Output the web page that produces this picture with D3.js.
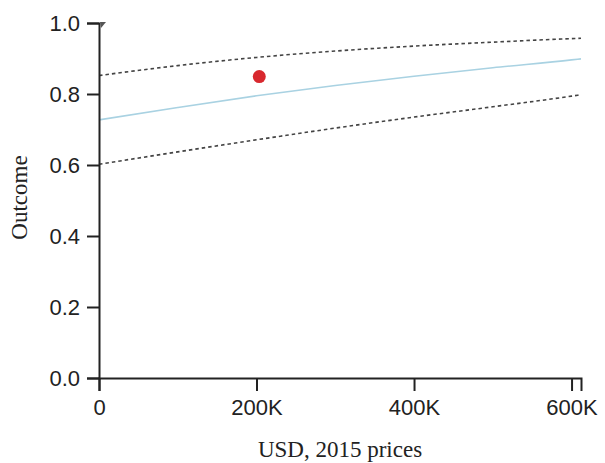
<!DOCTYPE html>
<html>
<head>
<meta charset="utf-8">
<script src="https://cdn.jsdelivr.net/npm/d3@7"></script>
<style>
  html, body { margin: 0; padding: 0; background: #fff; }
  svg { display: block; }
</style>
</head>
<body>
<svg id="chart" width="605" height="463"></svg>
<script>
// ---- data ----
const xPoints   = [0, 100000, 200000, 300000, 400000, 500000, 600000, 612000];
const meanLine  = [0.727, 0.762, 0.795, 0.824, 0.850, 0.874, 0.896, 0.899];
const upperLine = [0.852, 0.880, 0.903, 0.921, 0.935, 0.946, 0.956, 0.957];
const lowerLine = [0.602, 0.637, 0.671, 0.704, 0.735, 0.764, 0.794, 0.798];
const observed  = [{x: 203500, y: 0.849}];
const xTicks = [0, 200000, 400000, 600000];
const xTickLabels = ["0", "200K", "400K", "600K"];
const yTicks = [0, 0.2, 0.4, 0.6, 0.8, 1.0];
const xTitle = "USD, 2015 prices";
const yTitle = "Outcome";

const svg = d3.select("#chart");
const x = d3.scaleLinear().domain([0, 612000]).range([99, 581]);
const y = d3.scaleLinear().domain([0, 1]).range([378, 23]);

const sans = "'Liberation Sans', Arial, Helvetica, sans-serif";
const serif = "'Liberation Serif', 'Times New Roman', serif";

const line = d3.line().x((d, i) => x(xPoints[i])).y(d => y(d)).curve(d3.curveMonotoneX);

svg.append("path").datum(upperLine).attr("d", line)
  .attr("fill", "none").attr("stroke", "#444").attr("stroke-width", 1.6)
  .attr("stroke-dasharray", "3.5,3");
svg.append("path").datum(lowerLine).attr("d", line)
  .attr("fill", "none").attr("stroke", "#444").attr("stroke-width", 1.6)
  .attr("stroke-dasharray", "3.5,3");
svg.append("path").datum(meanLine).attr("d", line)
  .attr("fill", "none").attr("stroke", "#a9d2e2").attr("stroke-width", 1.6);

svg.selectAll("circle.obs").data(observed).join("circle")
  .attr("class", "obs")
  .attr("cx", d => x(d.x)).attr("cy", d => y(d.y)).attr("r", 6.5)
  .attr("fill", "#d8282e");

// axes
const xAxis = d3.axisBottom(x).tickValues(xTicks)
  .tickFormat((d, i) => xTickLabels[i]).tickSize(13).tickPadding(8);
const yAxis = d3.axisLeft(y).tickValues(yTicks)
  .tickFormat(d3.format(".1f")).tickSize(12).tickPadding(7);

const gx = svg.append("g").attr("transform", "translate(0,378)").call(xAxis);
const gy = svg.append("g").attr("transform", "translate(99,0)").call(yAxis);

[gx, gy].forEach(g => {
  g.select(".domain").attr("stroke", "#222").attr("stroke-width", 2);
  g.selectAll(".tick line").attr("stroke", "#222").attr("stroke-width", 2);
  g.selectAll(".tick text").attr("fill", "#222")
    .style("font-family", sans).style("font-size", "22px");
});

// small marker at top of y-axis
svg.append("path")
  .attr("d", `M${x(0)+1},${y(1)-1} L${x(0)+7},${y(1)-1} L${x(0)+2},${y(1)+5} Z`)
  .attr("fill", "#555");

// titles
svg.append("text").attr("x", (x.range()[0] + x.range()[1]) / 2).attr("y", 457)
  .attr("text-anchor", "middle").attr("fill", "#222")
  .style("font-family", serif).style("font-size", "23px").text(xTitle);
svg.append("text")
  .attr("transform", `translate(27,${(y.range()[0] + y.range()[1]) / 2 - 3}) rotate(-90)`)
  .attr("text-anchor", "middle").attr("fill", "#222")
  .style("font-family", serif).style("font-size", "23px").text(yTitle);
</script>
</body>
</html>
